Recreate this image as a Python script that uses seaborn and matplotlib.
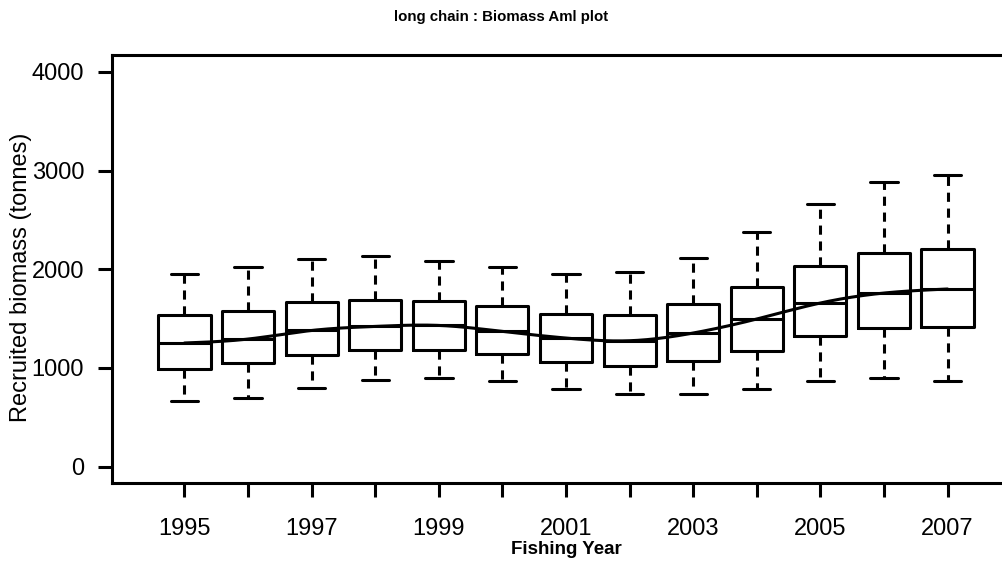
import numpy as np
import pandas as pd
import matplotlib
matplotlib.use("Agg")
import matplotlib.pyplot as plt
import seaborn as sns

# Recruited biomass summaries by fishing year (tonnes)
years = [1995, 1996, 1997, 1998, 1999, 2000, 2001, 2002, 2003, 2004, 2005, 2006, 2007]
lower = [661, 696, 797, 881, 898, 871, 787, 739, 736, 787, 864, 898, 871]
q1 = [992, 1050, 1127, 1178, 1185, 1144, 1060, 1023, 1066, 1175, 1320, 1405, 1411]
median = [1253, 1293, 1380, 1421, 1431, 1370, 1303, 1276, 1354, 1496, 1658, 1759, 1800]
q3 = [1532, 1580, 1664, 1691, 1681, 1623, 1546, 1532, 1647, 1820, 2028, 2163, 2205]
upper = [1953, 2022, 2103, 2137, 2086, 2018, 1951, 1968, 2113, 2373, 2660, 2879, 2957]

y_ticks = [0, 1000, 2000, 3000, 4000]
x_labels = [str(y) if (y - 1995) % 2 == 0 else "" for y in years]

sns.set_theme(style="ticks")
plt.rcParams["font.family"] = ["Liberation Sans", "DejaVu Sans"]
plt.rcParams["text.color"] = "black"
plt.rcParams["axes.labelcolor"] = "black"

# Five summary values per year; with whiskers spanning min..max the
# drawn box reproduces the quartiles exactly.
rows = []
for i, yr in enumerate(years):
    for v in (lower[i], q1[i], median[i], q3[i], upper[i]):
        rows.append({"year": str(yr), "biomass": v})
df = pd.DataFrame(rows)
order = [str(y) for y in years]

W, H = 1002, 575
fig = plt.figure(figsize=(W / 100, H / 100), dpi=100)
ax = fig.add_axes([112 / W, (H - 483) / H, (1020 - 112) / W, (483 - 55) / H])

lw = 2.2
sns.boxplot(
    data=df, x="year", y="biomass", order=order, ax=ax,
    whis=(0, 100), width=0.82, fill=False, color="black", linewidth=lw,
    boxprops={"color": "black", "linewidth": lw},
    whiskerprops={"color": "black", "linewidth": lw, "linestyle": (0, (3, 2.2))},
    capprops={"color": "black", "linewidth": lw},
    medianprops={"color": "black", "linewidth": lw},
    capwidths=0.43,
)

# Smooth trend through the yearly medians (natural cubic spline)
xk = np.arange(len(years), dtype=float)
yk = np.array(median, dtype=float)
n = len(xk)
A = np.zeros((n, n))
b = np.zeros(n)
A[0, 0] = A[-1, -1] = 1.0
for i in range(1, n - 1):
    A[i, i - 1], A[i, i], A[i, i + 1] = 1.0, 4.0, 1.0
    b[i] = 6.0 * (yk[i + 1] - 2 * yk[i] + yk[i - 1])
M = np.linalg.solve(A, b)
xs = np.linspace(xk[0], xk[-1], 400)
idx = np.clip(np.floor(xs).astype(int), 0, n - 2)
t0 = xk[idx + 1] - xs
t1 = xs - xk[idx]
ys = (M[idx] * t0 ** 3 / 6 + M[idx + 1] * t1 ** 3 / 6
      + (yk[idx] - M[idx] / 6) * t0 + (yk[idx + 1] - M[idx + 1] / 6) * t1)
sns.lineplot(x=xs, y=ys, ax=ax, color="black", linewidth=lw, sort=False, estimator=None)

ax.set_xlim(-1.14, 13.14)
ax.set_ylim(-165, 4170)
ax.set_yticks(y_ticks)
ax.set_yticklabels([str(v) for v in y_ticks])
ax.set_xticks(range(len(years)))
ax.set_xticklabels(x_labels)
ax.tick_params(axis="both", labelsize=17, length=10, width=lw, color="black",
               labelcolor="black", direction="out")
ax.tick_params(axis="y", pad=10)
ax.tick_params(axis="x", pad=15)

for s in ax.spines.values():
    s.set_linewidth(lw)
    s.set_color("black")

ax.set_xlabel("")
ax.set_ylabel("Recruited biomass (tonnes)", fontsize=17, va="center", color="black")
ax.yaxis.set_label_coords((21 - 112) / 908, 0.481)

fig.text(566 / W, 1 - 550 / H, "Fishing Year", ha="center", va="center",
         fontsize=13.5, fontweight="bold", color="black")
fig.text(501 / W, 1 - 17 / H, "long chain : Biomass Aml plot", ha="center",
         va="center", fontsize=10.8, fontweight="bold", color="black")

fig.savefig("out.png", dpi=100, facecolor="white")
